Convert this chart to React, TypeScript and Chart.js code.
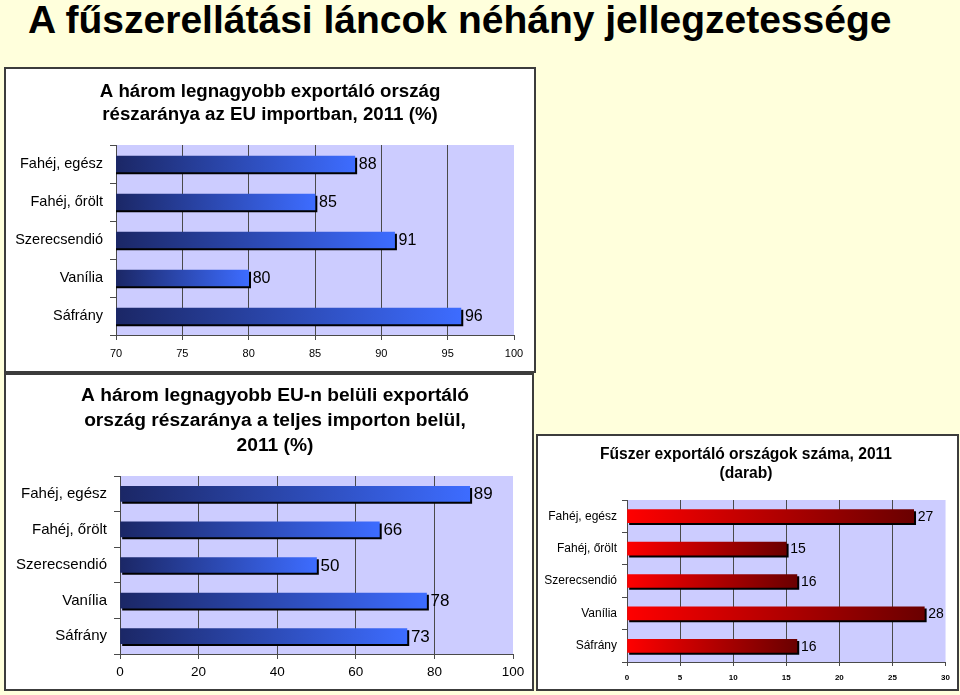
import React, { useEffect, useRef } from "react";
import { Chart, registerables } from "chart.js";

Chart.register(...registerables);

// ---------- data ----------
const mainTitle = "A fűszerellátási láncok néhány jellegzetessége";
const categories = ["Fahéj, egész", "Fahéj, őrölt", "Szerecsendió", "Vanília", "Sáfrány"];

const title1 = ["A három legnagyobb exportáló ország", "részaránya az EU importban, 2011 (%)"];
const euImportShare = [88, 85, 91, 80, 96];
const ticks1 = [70, 75, 80, 85, 90, 95, 100];

const title2 = [
  "A három legnagyobb EU-n belüli exportáló",
  "ország részaránya a teljes importon belül,",
  "2011 (%)",
];
const intraEuShare = [89, 66, 50, 78, 73];
const ticks2 = [0, 20, 40, 60, 80, 100];

const title3 = ["Fűszer exportáló országok száma, 2011", "(darab)"];
const exporterCount = [27, 15, 16, 28, 16];
const ticks3 = [0, 5, 10, 15, 20, 25, 30];

const FONT = 'Arial, "Liberation Sans", sans-serif';

type PanelProps = {
  box: { left: number; top: number; width: number; height: number };
  title: string[];
  titleSize: number;
  titleLine: number;
  titleX: number;
  titleY: number;
  plotTop: number;
  values: number[];
  ticks: number[];
  yWidth: number;
  xHeight: number;
  padRight: number;
  catSize: number;
  tickSize: number;
  tickBold: boolean;
  tickPad: number;
  tickLen: number;
  yTickLen: number;
  yTickPad: number;
  labelSize: number;
  barThickness: number;
  gradFrom: string;
  gradTo: string;
};

const plotBg = {
  id: "plotBg",
  beforeDraw(chart: any) {
    const a = chart.chartArea;
    if (!a) return;
    const ctx = chart.ctx;
    ctx.save();
    ctx.fillStyle = "#CCCCFF";
    ctx.fillRect(a.left, a.top, a.right - a.left, a.bottom - a.top);
    ctx.restore();
  },
};

const barShadow = {
  id: "barShadow",
  beforeDatasetsDraw(chart: any) {
    const ctx = chart.ctx;
    ctx.save();
    ctx.shadowColor = "rgba(0,0,0,1)";
    ctx.shadowOffsetX = 2;
    ctx.shadowOffsetY = 2;
    ctx.shadowBlur = 0;
  },
  afterDatasetsDraw(chart: any) {
    chart.ctx.restore();
  },
};

function makeLabels(size: number) {
  return {
    id: "valueLabels",
    afterDatasetsDraw(chart: any) {
      const ctx = chart.ctx;
      const meta = chart.getDatasetMeta(0);
      const data = chart.data.datasets[0].data as number[];
      ctx.save();
      ctx.font = `${size}px ${FONT}`;
      ctx.fillStyle = "#000";
      ctx.textAlign = "left";
      ctx.textBaseline = "middle";
      meta.data.forEach((el: any, i: number) => {
        ctx.fillText(String(data[i]), el.x + 4, el.y + 1);
      });
      ctx.restore();
    },
  };
}

function makeTitle(lines: string[], size: number, lineH: number, cx: number, y0: number) {
  return {
    id: "panelTitle",
    afterDraw(chart: any) {
      const ctx = chart.ctx;
      ctx.save();
      ctx.font = `bold ${size}px ${FONT}`;
      ctx.fillStyle = "#000";
      ctx.textAlign = "center";
      ctx.textBaseline = "middle";
      lines.forEach((t, i) => ctx.fillText(t, cx, y0 + i * lineH));
      ctx.restore();
    },
  };
}

function BarPanel(p: PanelProps) {
  const ref = useRef<HTMLCanvasElement | null>(null);
  useEffect(() => {
    if (!ref.current) return;
    const last = p.ticks.length - 1;
    const chart = new Chart(ref.current, {
      type: "bar",
      data: {
        labels: categories,
        datasets: [
          {
            data: p.values,
            barThickness: p.barThickness,
            borderWidth: 0,
            backgroundColor: (c: any) => {
              const chart = c.chart;
              if (!chart.chartArea || c.type !== "data") return p.gradTo;
              const xs = chart.scales.x;
              const x0 = xs.getPixelForValue(xs.min);
              const x1 = xs.getPixelForValue(c.raw);
              const g = chart.ctx.createLinearGradient(x0, 0, Math.max(x1, x0 + 1), 0);
              g.addColorStop(0, p.gradFrom);
              g.addColorStop(1, p.gradTo);
              return g;
            },
          },
        ],
      },
      options: {
        indexAxis: "y",
        responsive: false,
        animation: false,
        events: [],
        layout: { padding: { left: 0, right: p.padRight, top: p.plotTop, bottom: 0 } },
        plugins: {
          legend: { display: false },
          tooltip: { enabled: false },
          title: { display: false },
        },
        scales: {
          x: {
            type: "linear",
            min: p.ticks[0],
            max: p.ticks[last],
            afterBuildTicks: (s: any) => {
              s.ticks = p.ticks.map((v) => ({ value: v }));
            },
            afterFit: (s: any) => {
              s.height = p.xHeight;
            },
            ticks: {
              color: "#000",
              padding: p.tickPad,
              maxRotation: 0,
              font: { family: FONT, size: p.tickSize, weight: p.tickBold ? "bold" : "normal" },
            },
            grid: {
              color: (c: any) => (c.index === last ? "rgba(0,0,0,0)" : "#4a4a4a"),
              tickColor: "#4a4a4a",
              tickLength: p.tickLen,
              lineWidth: 1,
            },
            border: { display: true, color: "#4a4a4a", width: 1 },
          },
          y: {
            type: "category",
            afterFit: (s: any) => {
              s.width = p.yWidth;
            },
            ticks: {
              color: "#000",
              padding: p.yTickPad,
              font: { family: FONT, size: p.catSize },
            },
            grid: {
              drawOnChartArea: false,
              offset: true,
              color: "#4a4a4a",
              tickLength: p.yTickLen,
            },
            border: { display: true, color: "#4a4a4a", width: 1 },
          },
        },
      } as any,
      plugins: [
        plotBg,
        barShadow,
        makeLabels(p.labelSize),
        makeTitle(p.title, p.titleSize, p.titleLine, p.titleX, p.titleY),
      ],
    });
    return () => chart.destroy();
  }, []);

  return (
    <div
      style={{
        position: "absolute",
        left: p.box.left - 2,
        top: p.box.top - 2,
        width: p.box.width,
        height: p.box.height,
        border: "2px solid #3c3c3c",
        background: "#ffffff",
      }}
    >
      <canvas ref={ref} width={p.box.width} height={p.box.height} style={{ display: "block" }} />
    </div>
  );
}

export default function App() {
  return (
    <div
      style={{
        position: "fixed",
        left: 0,
        top: 0,
        width: 960,
        height: 695,
        background: "#FFFFDC",
        overflow: "hidden",
        fontFamily: FONT,
      }}
    >
      <div
        style={{
          position: "absolute",
          left: 28,
          top: 0,
          fontSize: 39,
          lineHeight: "39px",
          fontWeight: "bold",
          color: "#000",
          whiteSpace: "nowrap",
        }}
      >
        {mainTitle}
      </div>

      <BarPanel
        box={{ left: 6, top: 69, width: 528, height: 302 }}
        title={title1}
        titleSize={18.7}
        titleLine={23}
        titleX={264}
        titleY={23}
        plotTop={76}
        values={euImportShare}
        ticks={ticks1}
        yWidth={110}
        xHeight={36}
        padRight={20}
        catSize={14.5}
        tickSize={11}
        tickBold={false}
        tickPad={7}
        tickLen={5}
        yTickLen={6}
        yTickPad={7}
        labelSize={16}
        barThickness={16}
        gradFrom="#1B2766"
        gradTo="#3D6CFF"
      />

      <BarPanel
        box={{ left: 6, top: 375, width: 526, height: 314 }}
        title={title2}
        titleSize={19.2}
        titleLine={25}
        titleX={269}
        titleY={21}
        plotTop={101}
        values={intraEuShare}
        ticks={ticks2}
        yWidth={114}
        xHeight={35}
        padRight={19}
        catSize={15}
        tickSize={13.5}
        tickBold={false}
        tickPad={5}
        tickLen={5}
        yTickLen={6}
        yTickPad={7}
        labelSize={17}
        barThickness={15}
        gradFrom="#1B2766"
        gradTo="#3D6CFF"
      />

      <BarPanel
        box={{ left: 538, top: 436, width: 419, height: 253 }}
        title={title3}
        titleSize={15.6}
        titleLine={19}
        titleX={208}
        titleY={19}
        plotTop={64}
        values={exporterCount}
        ticks={ticks3}
        yWidth={89}
        xHeight={27}
        padRight={11}
        catSize={12}
        tickSize={8}
        tickBold={true}
        tickPad={7}
        tickLen={4}
        yTickLen={5}
        yTickPad={5}
        labelSize={14}
        barThickness={13}
        gradFrom="#FF0000"
        gradTo="#6A0000"
      />
    </div>
  );
}
